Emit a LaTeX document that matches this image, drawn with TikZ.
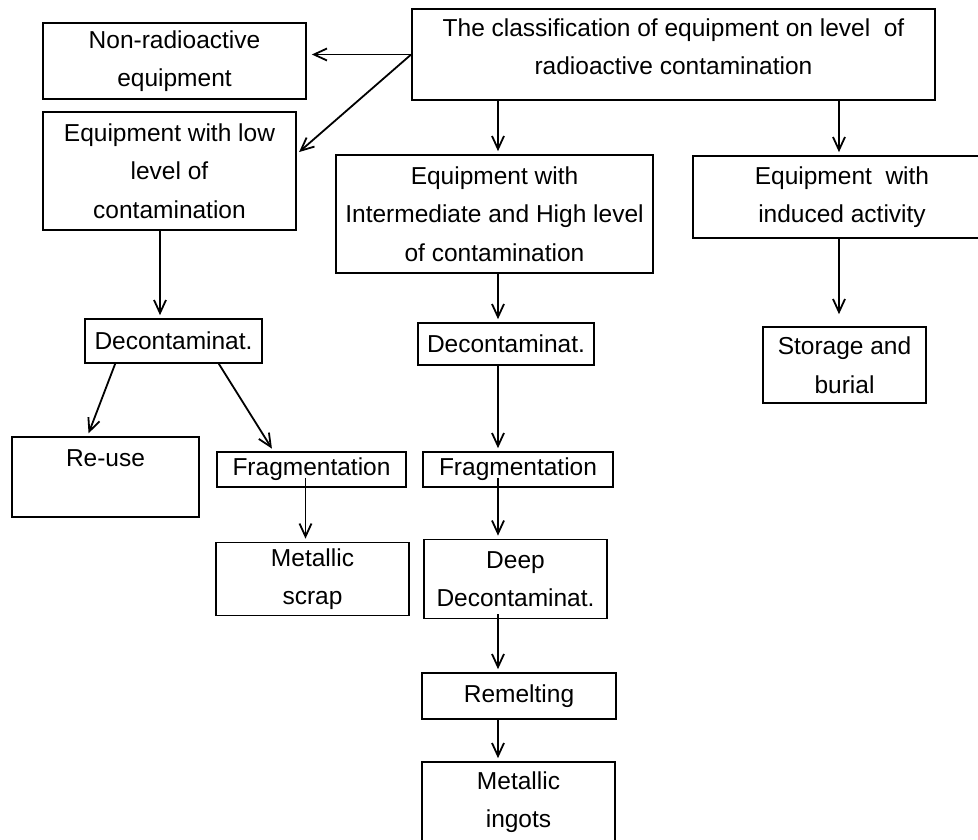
\documentclass[tikz,border=0pt]{standalone}
\usepackage{fontspec}
\setmainfont{Liberation Sans}
\usetikzlibrary{arrows.meta,calc}

\begin{document}
\begin{tikzpicture}[x=1pt, y=-1pt,
    every node/.style={font=\fontsize{24.5}{38.5}\selectfont},
    box/.style={draw, line width=1.7pt, align=center, inner sep=0pt},
    >={Straight Barb[length=13pt,width=12pt]},
    link/.style={->, line width=1.8pt, shorten >=3pt}]
  \useasboundingbox (0,0) rectangle (978,840);
  \clip (0,0) rectangle (978,840);

  % Nodes
  \node[box, minimum width=523pt, minimum height=91pt, text depth=16pt] (top) at (673.5,54.5)
    {The classification of equipment on level~ of\\radioactive contamination};
  \node[box, minimum width=263pt, minimum height=76pt] (nonrad) at (174.5,61)
    {Non-radioactive\\equipment};
  \node[box, minimum width=253pt, minimum height=118pt] (low) at (169.5,171)
    {Equipment with low\\level of\\contamination};
  \node[box, minimum width=317pt, minimum height=118pt] (inter) at (494.5,214)
    {Equipment with\\Intermediate and High level\\of contamination};
  \node[box, minimum width=298pt, minimum height=82pt] (induced) at (842,197)
    {Equipment~ with\\induced activity};

  \node[box, minimum width=177pt, minimum height=44pt] (deconA) at (173.5,341) {Decontaminat.};
  \node[box, minimum width=187pt, minimum height=80pt] (reuse) at (105.5,477) {Re-use\\\mbox{}};
  \node[box, minimum width=189pt, minimum height=35pt] (fragA) at (311.5,469.5) {Fragmentation};
  \node[box, minimum width=193pt, minimum height=73pt] (scrap) at (312.5,579) {Metallic\\scrap};

  \node[box, minimum width=176pt, minimum height=42pt] (deconB) at (506,344) {Decontaminat.};
  \node[box, minimum width=190pt, minimum height=35pt] (fragB) at (518,469.5) {Fragmentation};
  \node[box, minimum width=183pt, minimum height=79pt] (deep) at (515.5,579) {Deep\\Decontaminat.};
  \node[box, minimum width=194pt, minimum height=46pt] (remelt) at (519,696) {Remelting};
  \node[box, minimum width=193pt, minimum height=80pt] (ingots) at (518.5,802) {Metallic\\ingots};

  \node[box, minimum width=163pt, minimum height=76pt] (storage) at (844.5,365) {Storage and\\burial};

  % Columns of the vertical links
  \coordinate (leftcol) at (160,0);
  \coordinate (midcol) at (498,0);
  \coordinate (rightcol) at (839,0);

  % Links
  \draw[link, shorten >=5pt] (top.west) -- (nonrad.east |- top.west);
  \draw[link] (top.west) -- ([yshift=17pt]low.east);
  \draw[link] (top.south -| midcol) -- (inter.north -| midcol);
  \draw[link] (top.south -| rightcol) -- (induced.north -| rightcol);

  \draw[link] (low.south -| leftcol) -- (deconA.north -| leftcol);
  \draw[link] ($(deconA.south west)+(31,0)$) -- ($(reuse.north)+(-18,0)$);
  \draw[link] ($(deconA.south east)+(-44,0)$) -- ($(fragA.north)+(-38,0)$);
  \draw[link] ($(fragA.south)+(-6,-10)$) -- ($(fragA.south |- scrap.north)+(-6,0)$);

  \draw[link] (inter.south -| midcol) -- (deconB.north -| midcol);
  \draw[link] (deconB.south -| midcol) -- (fragB.north -| midcol);
  \draw[link] ($(fragB.south -| midcol)+(0,-10)$) -- (deep.north -| midcol);
  \draw[link] ($(deep.south -| midcol)+(0,-5)$) -- (remelt.north -| midcol);
  \draw[link] (remelt.south -| midcol) -- (ingots.north -| midcol);

  \draw[link, shorten >=12pt] (induced.south -| rightcol) -- (storage.north -| rightcol);
\end{tikzpicture}
\end{document}
